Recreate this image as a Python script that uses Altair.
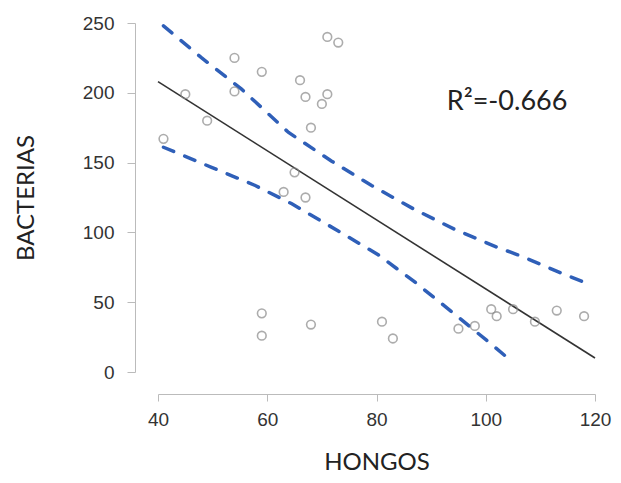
import altair as alt
import pandas as pd

# Observed points (HONGOS, BACTERIAS)
hongos = [41, 45, 49, 54, 54, 59, 59, 59, 63, 65, 66, 67, 67, 68, 68, 70, 71, 71, 73,
          81, 83, 95, 98, 101, 102, 105, 109, 113, 118]
bacterias = [167, 199, 180, 225, 201, 215, 42, 26, 129, 143, 209, 197, 125, 175, 34, 192, 199, 240, 236,
             36, 24, 31, 33, 45, 40, 45, 36, 44, 40]

# Fitted regression line
fit_x = [40, 120]
fit_y = [208, 10]

# Dashed band (upper)
up_x = [41, 48, 55.3, 63.9, 71.8, 79.1, 86.7, 94.4, 102, 106.5, 114, 117.6]
up_y = [248, 225, 202.6, 171.6, 151, 133.6, 117, 102, 89.5, 83, 70.5, 65]

# Dashed band (lower)
lo_x = [41, 49.8, 57.8, 64.5, 73, 80.3, 87, 93.8, 100.5, 104.1]
lo_y = [161, 146.6, 133.6, 120.5, 101, 84, 64.5, 43, 21.6, 9.8]

# Annotation
ann_text = ["R²=-0.666"]
ann_x = [103.9]
ann_y = [193.6]

pts = pd.DataFrame({"HONGOS": hongos, "BACTERIAS": bacterias})
fit = pd.DataFrame({"HONGOS": fit_x, "BACTERIAS": fit_y})
band = pd.concat([
    pd.DataFrame({"HONGOS": up_x, "BACTERIAS": up_y, "band": "upper"}),
    pd.DataFrame({"HONGOS": lo_x, "BACTERIAS": lo_y, "band": "lower"}),
])
ann = pd.DataFrame({"HONGOS": ann_x, "BACTERIAS": ann_y, "t": ann_text})

xscale = alt.Scale(domain=[40, 120], nice=False, zero=False)
yscale = alt.Scale(domain=[0, 250], nice=False)

xaxis = alt.Axis(values=[40, 60, 80, 100, 120], title="HONGOS", offset=22, grid=False,
                 domainColor="#bbbbbb", tickColor="#bbbbbb", tickSize=7, labelFlush=False,
                 labelFont="Liberation Sans", labelFontSize=19, labelColor="#333333", labelPadding=9,
                 titleFont="Lato", titleFontSize=24, titleFontWeight="normal", titleColor="#222222",
                 titlePadding=21)
yaxis = alt.Axis(values=[0, 50, 100, 150, 200, 250], title="BACTERIAS", offset=23, grid=False,
                 domainColor="#bbbbbb", tickColor="#bbbbbb", tickSize=8, labelFlush=False,
                 labelFont="Liberation Sans", labelFontSize=19, labelColor="#333333", labelPadding=13,
                 titleFont="Lato", titleFontSize=24, titleFontWeight="normal", titleColor="#222222",
                 titlePadding=44)

x = alt.X("HONGOS:Q", scale=xscale, axis=xaxis)
y = alt.Y("BACTERIAS:Q", scale=yscale, axis=yaxis)

points = alt.Chart(pts).mark_point(shape="circle", filled=False, size=75, color="#8a8a8a",
                                   strokeWidth=1.6).encode(x=x, y=y)

line = alt.Chart(fit).mark_line(color="#333333", strokeWidth=1.6).encode(
    x=alt.X("HONGOS:Q", scale=xscale), y=alt.Y("BACTERIAS:Q", scale=yscale))

bands = alt.Chart(band).mark_line(color="#2f5fb8", strokeWidth=3.5, strokeDash=[11, 12],
                                  strokeCap="round").encode(
    x=alt.X("HONGOS:Q", scale=xscale), y=alt.Y("BACTERIAS:Q", scale=yscale),
    detail="band:N", order="HONGOS:Q")

text = alt.Chart(ann).mark_text(font="Lato", fontSize=27, color="#222222", align="center",
                                baseline="middle").encode(
    x=alt.X("HONGOS:Q", scale=xscale), y=alt.Y("BACTERIAS:Q", scale=yscale), text="t:N")

chart = alt.layer(bands, line, points, text).properties(
    width=437, height=349,
    padding={"left": 150, "top": 15, "right": 17, "bottom": 102},
    autosize=alt.AutoSizeParams(type="none"),
    background="white",
).configure_view(stroke=None)

chart.save("out.html", embed_options={"renderer": "svg", "actions": False})
